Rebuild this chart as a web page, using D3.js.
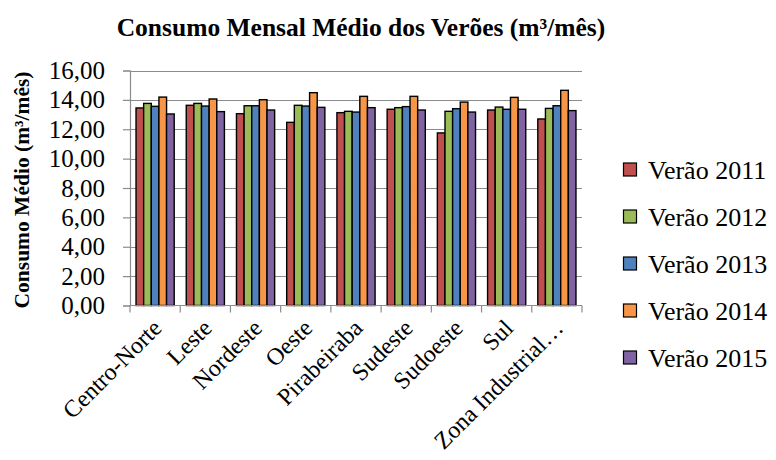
<!DOCTYPE html>
<html>
<head>
<meta charset="utf-8">
<script src="https://cdn.jsdelivr.net/npm/d3@7"></script>
<style>
  body { margin: 0; background: #fff; }
  svg { display: block; }
  svg text { font-family: "Liberation Serif", "Times New Roman", serif; fill: #000; }
</style>
</head>
<body>
<svg id="chart" width="776" height="460"></svg>
<script>
// Regions and summer averages (m³/mês)
const categories = ["Centro-Norte", "Leste", "Nordeste", "Oeste", "Pirabeiraba", "Sudeste", "Sudoeste", "Sul", "Zona Industrial…"];
const seriesNames = ["Verão 2011", "Verão 2012", "Verão 2013", "Verão 2014", "Verão 2015"];
const verao2011 = [13.45, 13.63, 13.06, 12.47, 13.13, 13.36, 11.75, 13.31, 12.70];
const verao2012 = [13.76, 13.76, 13.60, 13.63, 13.22, 13.47, 13.22, 13.51, 13.42];
const verao2013 = [13.56, 13.58, 13.60, 13.58, 13.17, 13.54, 13.40, 13.36, 13.60];
const verao2014 = [14.19, 14.06, 14.01, 14.49, 14.24, 14.24, 13.85, 14.17, 14.65];
const verao2015 = [13.04, 13.20, 13.31, 13.49, 13.47, 13.31, 13.17, 13.36, 13.27];
const yTicks = [0, 2, 4, 6, 8, 10, 12, 14, 16];
const colors = ["#C0504D", "#9BBB59", "#4F81BD", "#F79646", "#8064A2"];

const series = [verao2011, verao2012, verao2013, verao2014, verao2015];
const svg = d3.select("#chart");
const plotLeft = 130, plotRight = 582, plotTop = 70.5, plotBottom = 305.5;
const gridColor = "#8c8c8c";
const serif = "'Liberation Serif', 'Times New Roman', serif";

const x = d3.scaleBand().domain(categories).range([plotLeft, plotRight]).paddingInner(0.24).paddingOuter(0.12);
const xs = d3.scaleBand().domain(d3.range(series.length)).range([0, x.bandwidth()]);
const y = d3.scaleLinear().domain([0, 16]).range([plotBottom, plotTop]);
const fmt = v => d3.format(".2f")(v).replace(".", ",");

// Horizontal gridlines
svg.append("g").selectAll("line").data(yTicks.filter(t => t > 0)).join("line")
  .attr("x1", plotLeft).attr("x2", plotRight)
  .attr("y1", d => Math.round(y(d)) + 0.5).attr("y2", d => Math.round(y(d)) + 0.5)
  .attr("stroke", gridColor).attr("stroke-width", 1.2);

// Bars
const groups = svg.append("g").selectAll("g").data(categories).join("g")
  .attr("transform", c => `translate(${x(c)},0)`);
groups.selectAll("rect").data((c, i) => series.map((s, k) => ({ k, v: s[i] }))).join("rect")
  .attr("x", d => xs(d.k))
  .attr("width", xs.bandwidth())
  .attr("y", d => y(d.v))
  .attr("height", d => y(0) - y(d.v))
  .attr("fill", d => colors[d.k])
  .attr("stroke", "#000").attr("stroke-width", 1.4);

// Y axis
const yAxis = svg.append("g").attr("transform", `translate(${plotLeft},0)`)
  .call(d3.axisLeft(y).tickValues(yTicks).tickFormat(fmt).tickSize(7).tickPadding(18));
yAxis.attr("font-family", serif);
yAxis.select(".domain").attr("stroke", gridColor).attr("stroke-width", 1.2);
yAxis.selectAll(".tick line").attr("stroke", gridColor).attr("stroke-width", 1.2);
yAxis.selectAll("text").attr("font-size", 25).style("font-family", serif);

// X axis: tick marks at category boundaries
const boundaries = categories.map(c => x(c) - x.step() * x.paddingInner() / 2).concat([plotRight]);
svg.append("line").attr("x1", plotLeft).attr("x2", plotRight).attr("y1", plotBottom).attr("y2", plotBottom)
  .attr("stroke", gridColor).attr("stroke-width", 1.2);
svg.append("g").selectAll("line").data(boundaries).join("line")
  .attr("x1", d => d).attr("x2", d => d).attr("y1", plotBottom).attr("y2", plotBottom + 7)
  .attr("stroke", gridColor).attr("stroke-width", 1.2);

// Rotated category labels
svg.append("g").selectAll("text").data(categories).join("text")
  .attr("transform", c => `translate(${x(c) + x.bandwidth() / 2 + 2},${plotBottom + 18}) rotate(-45)`)
  .attr("text-anchor", "end").attr("font-size", 24).attr("dy", "0.35em")
  .style("font-family", serif)
  .text(c => c);

// Title
svg.append("text").attr("x", 361).attr("y", 36).attr("text-anchor", "middle")
  .attr("font-size", 25.5).attr("font-weight", "bold").style("font-family", serif)
  .text("Consumo Mensal Médio dos Verões (m³/mês)");

// Y axis title
svg.append("text").attr("transform", `translate(29,${(plotTop + plotBottom) / 2 + 2}) rotate(-90)`)
  .attr("text-anchor", "middle").attr("font-size", 21.5).attr("font-weight", "bold").style("font-family", serif)
  .text("Consumo Médio (m³/mês)");

// Legend
const legend = svg.append("g").selectAll("g").data(seriesNames).join("g")
  .attr("transform", (d, i) => `translate(623,${169.5 + i * 47})`);
legend.append("rect").attr("x", 0.5).attr("y", -6.5).attr("width", 13).attr("height", 13)
  .attr("fill", (d, i) => colors[i]).attr("stroke", "#000").attr("stroke-width", 1.2);
legend.append("text").attr("x", 25).attr("dy", "0.35em").attr("font-size", 26)
  .style("font-family", serif).text(d => d);
</script>
</body>
</html>
